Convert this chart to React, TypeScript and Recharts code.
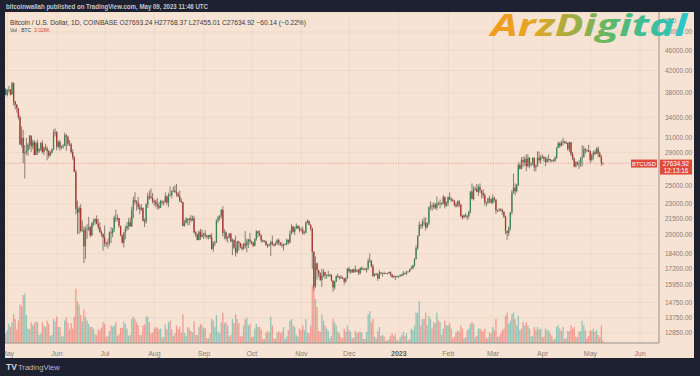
import React from "react";
import { ComposedChart, Bar, XAxis, YAxis, CartesianGrid, ReferenceLine } from "recharts";

// Day index 0 = May 1 2022. First candle = Apr 30 2022.
const startDay = -1;
const firstOpen = 38600;
const lastOpen = 27693.24;
const lastClose = 27634.92;

const closes = [
  37640,
  38480,38520,37720,39690,36550,36010,35470,34050,30080,31010,28940,29030,29280,30090,31320,29850,30420,28700,30290,29180,29430,30280,29090,29650,29540,29200,28620,29020,29450,31720,31800,
  29800,30450,29700,29860,29910,31370,31140,30200,30110,29080,28410,26590,22490,22130,22580,20380,20450,19000,20560,20570,20710,19970,21090,21230,21490,21030,20730,20270,20100,19780,
  19270,19240,19300,20230,20190,20550,21620,21590,21590,20850,19960,19320,20210,20570,20830,21190,20790,22430,23400,23230,23160,22690,22450,22580,21310,21250,22960,23850,23780,23640,23300,
  23270,22990,22820,22620,23310,23170,23180,23810,23150,23950,23940,24400,24440,24310,24100,23850,23340,23210,20830,21140,21520,21400,21530,21370,21560,20240,20040,19550,20290,19810,20050,
  20130,19950,19830,19990,19800,18790,19290,19320,21370,21650,21830,22400,20180,20240,19700,19800,20110,19420,19540,18880,18490,19410,19300,18930,18800,19220,19080,19410,19590,19430,
  19310,19060,19630,20340,20160,19960,19530,19420,19440,19130,19060,19160,19380,19180,19070,19260,19550,19330,19120,19040,19170,19210,19570,19340,20090,20770,20290,20600,20820,20630,20490,
  20480,20150,20210,21150,21300,20920,20600,18540,15880,17590,17070,16810,16330,16620,16900,16660,16690,16700,16700,16280,15780,16200,16610,16600,16520,16460,16440,16220,16440,17170,
  16980,17090,16890,17110,16970,17090,16840,17230,17130,17130,17090,17210,17780,17810,17360,16630,16780,16740,16440,16900,16820,16830,16780,16840,16830,16920,16700,16550,16630,16600,16540,
  16620,16680,16670,16850,16830,16950,16940,17120,17180,17440,17940,18850,19930,20950,20870,21170,21130,20680,21070,22670,22780,22710,22920,22620,23060,23010,23080,23030,23740,22830,23130,
  23730,23490,23430,23330,22930,22760,23260,22960,21800,21630,21860,21790,21780,22200,24330,23520,24570,24630,24280,24840,24440,24190,23950,23190,23160,23560,23490,23140,
  23650,23470,22360,22350,22430,22410,22200,21720,20360,20190,20630,22160,24200,24770,24380,25050,27420,26970,28040,27770,28180,27300,28330,27480,27480,28350,27140,27270,28350,28030,28480,
  28460,28200,27800,28170,28180,28040,27920,27950,28330,29650,30230,29890,30400,30490,30320,30320,29450,30400,28820,28250,27270,27820,27590,27520,28300,28420,29470,29340,29250,29230,
  28070,28680,29030,28850,29530,28900,28450,27690,27634.92,
];

const highs = [
  38800,
  38680,39170,38650,39950,39840,36650,36130,35500,34320,32650,32150,30030,30990,30310,31420,31320,30760,30700,30530,30750,29620,30420,30650,29830,30200,29850,29380,29190,29550,32200,32380,
  31980,30640,30680,29950,30170,31760,31560,31320,30700,30360,29450,28550,26890,23350,22790,22980,21350,20780,20790,21000,21700,20850,21200,21500,21580,21850,21510,21180,20420,20140,
  20870,19400,19650,20320,20720,20640,21830,22420,21950,21600,20860,20040,20240,20850,21190,21570,21680,22720,23780,24270,23420,23750,22990,22980,22660,21560,23100,24200,24440,24670,24180,
  23480,23450,23640,23210,23450,23350,23380,24240,23920,24200,24900,24450,24880,25050,25200,24250,24450,23600,23220,21380,21680,21520,21650,21880,21820,21820,20370,20150,20400,20560,20480,
  20190,20440,20000,20000,20050,20160,19450,19470,21440,21800,21860,22480,22790,20540,20340,19890,20190,20180,19690,19630,19950,19480,19500,19300,19190,19310,20360,19680,19650,20180,
  19480,19390,19700,20450,20360,20450,20050,19600,19550,19520,19250,19220,19510,19950,19220,19400,19650,19690,19350,19340,19250,19250,19690,19600,20400,21000,20850,20740,21080,20930,20830,
  20680,20790,20390,21300,21470,21370,21000,20670,18590,18150,17670,17070,16910,17180,17130,16950,16740,17010,16800,16750,16300,16270,16680,16800,16610,16690,16600,16480,16530,17250,
  17320,17110,17160,17200,17430,17110,17140,17290,17360,17230,17270,17240,18000,18390,17850,17530,16800,16860,16820,17060,16900,16870,16950,16860,16860,16940,16980,16780,16650,16630,16650,
  16630,16760,16780,16990,16880,17020,16960,17180,17400,17490,18000,19100,19970,21260,21000,21440,21650,21650,21190,22750,23300,23070,23160,23130,23790,23250,23480,23160,23960,23800,23280,
  23800,24250,23700,23590,23430,23160,23360,23450,22990,21940,21900,22090,21900,22320,24370,25250,24930,24890,25180,25110,25250,24480,24600,24140,23220,23680,23880,23610,
  24000,23780,23480,22420,22600,22550,22530,22260,21830,20400,20800,22180,24500,26400,25250,25180,27750,27720,28420,28500,28470,28820,28780,28410,27780,28410,28360,27500,29170,29150,28650,
  28800,28530,28480,28440,28770,28190,28100,28170,28530,29770,30480,30440,30620,31000,30610,30580,30330,30480,30420,29100,28380,27880,27830,28000,28400,30000,29880,29600,29430,30050,
  29330,28890,29260,29380,29700,29840,29140,28660,27768.37,
];

const lows = [
  37590,
  37390,38050,37560,37680,35860,35260,34760,33700,30030,29730,27680,25800,28700,28610,29480,29100,29450,28650,28700,28730,28950,29220,28900,28650,29310,28020,28270,28540,28820,29300,31220,
  29320,29590,29250,29480,29520,29870,29230,29860,29920,28860,28100,26560,21950,20080,20090,20240,20300,17620,17940,19650,20360,19780,19900,20800,20950,20990,20500,20190,19850,18630,
  18970,18980,18800,19060,19300,19790,20260,21200,21320,20660,19890,19240,18900,19630,20380,20480,20760,20770,21580,22940,22340,22450,21970,22290,21260,20720,21050,22590,23440,23520,23050,
  22850,22670,22430,22450,22590,22940,22840,23140,22880,22680,23890,23600,24300,24150,23780,23700,23200,23100,20790,20770,21080,20900,20900,21180,21320,20130,19820,19520,19530,19550,19810,
  19650,19760,19640,19610,19650,18700,18540,19020,19300,21110,21360,21560,19870,19630,19500,19320,19700,19370,18260,18760,18130,18360,18620,18830,18630,18690,18830,18500,18860,19160,
  19170,18950,19000,19500,19770,19880,19340,19350,19330,19030,18860,18990,18190,19080,18980,19070,19160,19090,19070,18900,18650,19110,19080,19160,19240,20060,20220,20000,20560,20530,20240,
  20340,20050,20040,20190,21080,20890,20390,17170,15590,15760,16370,16550,16240,15820,16530,16400,16420,16560,16580,16200,15480,15630,16170,16460,16350,16410,16400,15990,16110,16430,
  16860,16790,16870,16880,16880,16910,16680,16740,17060,17090,17070,16880,17080,17660,17280,16530,16580,16670,16260,16400,16750,16570,16760,16780,16730,16800,16600,16470,16480,16330,16490,
  16500,16550,16600,16650,16750,16680,16910,16910,17100,17150,17320,17910,18710,19890,20560,20620,20850,20410,20660,20900,22400,22300,22480,22480,22360,22870,22550,22860,23010,22550,22740,
  22790,23400,23210,23250,22750,22640,22740,22680,21690,21450,21600,21640,21370,21550,22050,23510,23360,24450,24260,23850,24160,23600,23600,22860,22750,22990,23110,23030,
  23030,23200,21980,22180,22220,22270,21930,21600,20080,19580,19900,20400,21920,24100,23900,24230,24950,26900,26890,27170,27360,26660,27140,27010,27260,27410,26650,26660,27250,27700,27560,
  28260,27870,27280,27680,27830,27730,27790,27880,27810,28180,29620,29630,29870,29960,30230,30130,29270,29100,28530,28010,27150,27130,27350,26950,27200,27250,28380,28900,29070,29150,
  27680,27880,28130,28680,28810,28400,28380,27310,27455.01,
];

// Volume, thousand BTC
const volumes = [
  12,
  16,24,20,26,36,30,17,28,48,46,60,62,35,18,17,26,22,25,27,26,10,12,26,22,20,28,24,9,10,30,27,
  33,20,20,8,9,28,32,25,17,25,18,33,68,52,48,35,27,42,33,28,24,20,20,18,11,10,17,16,19,26,
  24,8,9,15,22,20,22,26,9,11,19,19,27,24,18,9,10,30,33,30,26,22,10,10,22,23,33,33,26,12,13,
  18,20,19,17,18,7,8,23,17,26,28,17,9,12,22,17,20,13,36,13,9,20,18,15,13,27,10,10,20,24,22,
  18,19,6,6,12,30,28,20,35,14,12,26,38,25,26,22,8,10,30,25,36,30,25,8,9,22,30,32,22,24,
  7,8,18,24,20,20,17,5,5,13,15,13,33,22,5,6,13,15,12,14,20,5,8,16,28,30,22,20,10,8,18,
  16,22,16,30,13,12,22,72,74,55,45,15,14,36,28,22,18,15,6,9,30,26,22,14,12,7,6,18,14,22,
  16,14,6,7,15,12,14,14,13,5,5,14,36,40,26,30,8,6,15,20,9,10,8,3,3,5,9,12,9,11,4,
  3,7,10,14,9,12,3,5,18,16,22,38,38,52,22,30,30,38,22,34,30,18,26,25,38,28,26,10,18,28,22,
  22,25,18,6,8,13,16,14,22,18,6,7,16,18,24,26,24,7,9,18,18,16,14,18,6,7,13,12,
  20,16,30,8,8,12,16,18,34,38,24,28,36,38,30,22,34,16,18,26,22,26,22,18,8,9,20,16,20,17,18,
  7,8,18,16,16,12,9,4,6,20,22,18,15,20,5,6,15,15,22,18,20,8,7,14,15,28,22,16,6,9,
  16,15,18,14,16,10,7,22,3.028,
];

const monthTicks = [0, 31, 61, 92, 123, 153, 184, 214, 245, 276, 304, 335, 365, 396];
const monthLabels = ["May", "Jun", "Jul", "Aug", "Sep", "Oct", "Nov", "Dec", "2023", "Feb", "Mar", "Apr", "May", "Jun"];
const priceTicks = [12850, 13750, 14750, 15950, 17200, 18400, 20000, 21500, 23000, 25000, 29000, 31000, 34000, 38000, 42000, 46000, 50000];

const UP = "#3b8556";
const DOWN = "#a8372e";
const WICK = "#57534e";
const PEACH = "#f6e3d3";
const DARK = "#1e2130";
const AXIS = "#9d968f";
const LABEL = "#857f79";
const RED = "#e0493c";

const rows = closes.map((c, i) => {
  const o = i === 0 ? firstOpen : i === closes.length - 1 ? lastOpen : closes[i - 1];
  return {
    d: startDay + i,
    o,
    c,
    h: highs[i],
    l: lows[i],
    range: [lows[i], highs[i]],
    v: volumes[i],
    up: c >= o,
  };
});

const Candle = (props: any) => {
  const { x, y, width, height, payload } = props;
  if (!payload || y == null || height == null || isNaN(y)) return null;
  const top = Math.min(y, y + height);
  const hh = Math.abs(height);
  const { o, c, h, l, up } = payload;
  const lh = Math.log(h);
  const ll = Math.log(l);
  const yOf = (p: number) => top + (hh * (lh - Math.log(p))) / (lh - ll || 1);
  const cx = x + width / 2;
  const bTop = yOf(Math.max(o, c));
  const bBot = yOf(Math.min(o, c));
  const bw = 1.3;
  return (
    <g>
      <line x1={cx} x2={cx} y1={top} y2={top + hh} stroke={WICK} strokeWidth={0.7} />
      <rect x={cx - bw / 2} y={bTop} width={bw} height={Math.max(bBot - bTop, 0.8)} fill={up ? UP : DOWN} />
    </g>
  );
};

const VolBar = (props: any) => {
  const { x, y, width, height, payload } = props;
  if (!payload || y == null || isNaN(y)) return null;
  const cx = x + width / 2;
  const top = Math.min(y, y + height);
  return (
    <rect
      x={cx - 0.65}
      y={top}
      width={1.3}
      height={Math.abs(height)}
      fill={payload.up ? "rgba(38,166,154,0.48)" : "rgba(239,83,80,0.5)"}
    />
  );
};

const MonthTick = (props: any) => {
  const { x, y, payload } = props;
  const i = monthTicks.indexOf(payload.value);
  const label = monthLabels[i] ?? "";
  return (
    <text
      x={x}
      y={y + 10.5}
      textAnchor="middle"
      fontSize={7}
      fontFamily="Liberation Sans, Arial, sans-serif"
      fontWeight={label === "2023" ? 700 : 400}
      fill={label === "2023" ? "#5e5954" : LABEL}
    >
      {label}
    </text>
  );
};

const PriceTick = (props: any) => {
  const { x, y, payload } = props;
  return (
    <text x={x + 4} y={y + 2.3} textAnchor="start" fontSize={6.5} fontFamily="Liberation Sans, Arial, sans-serif" fill={LABEL}>
      {Number(payload.value).toFixed(2)}
    </text>
  );
};

const PriceTag = (props: any) => {
  const vb = props.viewBox;
  if (!vb) return null;
  const right = vb.x + vb.width;
  const yy = vb.y;
  return (
    <g fontFamily="Liberation Sans, Arial, sans-serif">
      <rect x={right - 28} y={yy - 3.8} width={26} height={8} fill={RED} />
      <text x={right - 15} y={yy + 2.2} textAnchor="middle" fontSize={5.8} fill="#ffffff">BTCUSD</text>
      <rect x={right + 1} y={yy - 3.8} width={32} height={15} fill={RED} />
      <text x={right + 17} y={yy + 2.2} textAnchor="middle" fontSize={6.3} fill="#ffffff">{lastClose.toFixed(2)}</text>
      <text x={right + 17} y={yy + 9.4} textAnchor="middle" fontSize={6.3} fill="#ffffff">12:13:16</text>
    </g>
  );
};

export default function App() {
  const font = "Liberation Sans, Arial, sans-serif";
  return (
    <div style={{ position: "absolute", left: 0, top: 0, width: 700, height: 376, background: DARK, overflow: "hidden" }}>
      <div style={{ position: "absolute", left: 5, top: 12, width: 689, height: 346, background: PEACH, overflow: "hidden" }}>
        <ComposedChart width={689} height={346} data={rows} margin={{ top: 0, right: 0, bottom: 0, left: 0 }}>
          <CartesianGrid xAxisId="p" yAxisId="p" stroke="rgba(150,110,80,0.08)" />
          <XAxis
            xAxisId="p"
            type="number"
            dataKey="d"
            domain={[-1.57, 407.9]}
            allowDataOverflow
            ticks={monthTicks}
            interval={0}
            height={15}
            tickLine={false}
            tickSize={0}
            axisLine={{ stroke: AXIS }}
            tick={<MonthTick />}
          />
          <XAxis xAxisId="v" type="number" dataKey="d" domain={[-1.57, 407.9]} allowDataOverflow hide />
          <YAxis
            yAxisId="p"
            orientation="right"
            scale="log"
            domain={[12283, 54726]}
            allowDataOverflow
            ticks={priceTicks}
            interval={0}
            width={35}
            tickLine={false}
            tickSize={0}
            axisLine={{ stroke: AXIS }}
            tick={<PriceTick />}
          />
          <YAxis yAxisId="v" domain={[0, 414]} allowDataOverflow hide />
          <Bar xAxisId="v" yAxisId="v" dataKey="v" barSize={1} shape={<VolBar />} isAnimationActive={false} />
          <ReferenceLine
            xAxisId="p"
            yAxisId="p"
            y={lastClose}
            stroke="#e58a7c"
            strokeWidth={0.8}
            strokeDasharray="1 1.5"
            label={<PriceTag />}
          />
          <Bar xAxisId="p" yAxisId="p" dataKey="range" barSize={1} shape={<Candle />} isAnimationActive={false} />
        </ComposedChart>
      </div>
      <svg width={700} height={376} style={{ position: "absolute", left: 0, top: 0, pointerEvents: "none" }}>
        <defs>
          <linearGradient id="arz" gradientUnits="userSpaceOnUse" x1={490} y1={0} x2={688} y2={0}>
            <stop offset="0%" stopColor="#f39a1c" />
            <stop offset="22%" stopColor="#e2a825" />
            <stop offset="40%" stopColor="#a9ac3e" />
            <stop offset="62%" stopColor="#5db86a" />
            <stop offset="80%" stopColor="#3dbd98" />
            <stop offset="100%" stopColor="#2bc7cc" />
          </linearGradient>
        </defs>
        <text x={6} y={8.6} fontSize={6.3} fontWeight={700} fontFamily={font} fill="#c4c7cf" textLength={202} lengthAdjust="spacingAndGlyphs">
          bitcoinwallah published on TradingView.com, May 09, 2023 11:46 UTC
        </text>
        <text x={10} y={25} fontSize={6.4} fontFamily={font} fill="#3d3a38" textLength={296} lengthAdjust="spacingAndGlyphs">
          Bitcoin / U.S. Dollar, 1D, COINBASE  O27693.24  H27768.37  L27455.01  C27634.92  −60.14 (−0.22%)
        </text>
        <text x={10} y={31.8} fontSize={6} fontFamily={font} fill="#3d3a38" textLength={21} lengthAdjust="spacingAndGlyphs">
          Vol · BTC
        </text>
        <text x={34} y={31.8} fontSize={6} fontFamily={font} fill={RED} textLength={16} lengthAdjust="spacingAndGlyphs">
          3.028K
        </text>
        <text x={663} y={22.6} fontSize={6.3} fontFamily={font} fill={LABEL}>
          USD
        </text>
        <text
          x={491}
          y={36}
          fontSize={31}
          fontWeight={700}
          fontStyle="italic"
          fontFamily="Open Sans, Noto Sans, sans-serif"
          fill="url(#arz)"
          textLength={196}
          lengthAdjust="spacingAndGlyphs"
        >
          ArzDigital
        </text>
        <text x={6} y={370} fontSize={8.5} fontWeight={700} fontFamily={font} fill="#d1d4dc">
          TV
        </text>
        <text x={18} y={370} fontSize={7.6} fontFamily={font} fill="#b7bac2">
          TradingView
        </text>
      </svg>
    </div>
  );
}
